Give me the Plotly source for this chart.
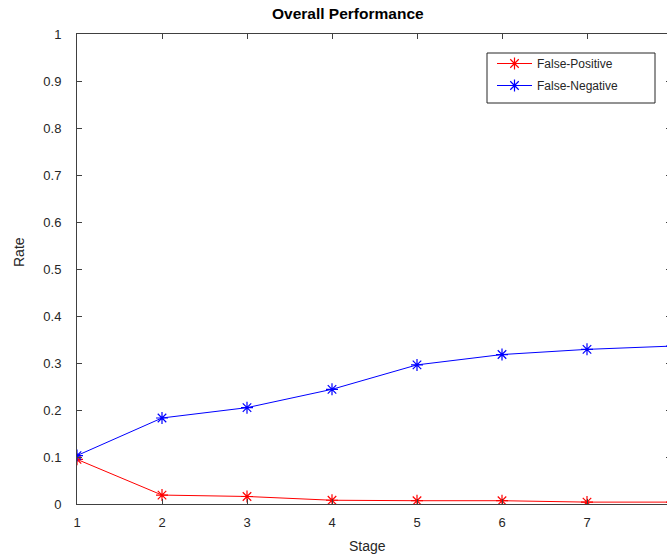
import plotly.graph_objects as go

stages = [1, 2, 3, 4, 5, 6, 7, 8]
false_positive = [0.095, 0.019, 0.016, 0.008, 0.007, 0.007, 0.004, 0.004]
false_negative = [0.103, 0.183, 0.205, 0.244, 0.296, 0.318, 0.329, 0.336]
y_ticks = [0, 0.1, 0.2, 0.3, 0.4, 0.5, 0.6, 0.7, 0.8, 0.9, 1]
y_tick_text = ["0", "0.1", "0.2", "0.3", "0.4", "0.5", "0.6", "0.7", "0.8", "0.9", "1"]
x_ticks = [1, 2, 3, 4, 5, 6, 7, 8]

W, H = 667, 557
L, R, T, B = 77, 0, 34, 53
font = "Liberation Sans, Arial, Helvetica, sans-serif"
axcol = "#404040"

plot_w = W - L - R
plot_h = H - T - B
y0 = H - B  # pixel row of y = 0


def px_x(p):
    return (p - L) / plot_w


def px_y(p):
    return (y0 - p) / plot_h


fig = go.Figure()
fig.add_trace(go.Scatter(x=stages, y=false_positive, mode="lines+markers", name="False-Positive",
                         legendgroup="fp",
                         line=dict(color="#FF0000", width=1),
                         marker=dict(symbol="asterisk-open", size=10, color="#FF0000",
                                     line=dict(color="#FF0000", width=1.2))))
fig.add_trace(go.Scatter(x=stages, y=false_negative, mode="lines+markers", name="False-Negative",
                         legendgroup="fn",
                         line=dict(color="#0000FF", width=1),
                         marker=dict(symbol="asterisk-open", size=10, color="#0000FF",
                                     line=dict(color="#0000FF", width=1.2))))
# invisible trace to carry the right-side mirror ticks
fig.add_trace(go.Scatter(x=[1], y=[0], yaxis="y2", mode="markers", marker=dict(opacity=0),
                         showlegend=False, hoverinfo="skip"))

px_per_unit = 85.0
x_max = 1 + plot_w / px_per_unit

fig.update_layout(
    width=W, height=H,
    margin=dict(l=L, r=R, t=T, b=B),
    paper_bgcolor="white", plot_bgcolor="white",
    font=dict(family=font, size=13, color="#262626"),
    showlegend=True,
    legend=dict(x=px_x(492), y=px_y(49), xanchor="left", yanchor="top",
                borderwidth=0, bgcolor="rgba(0,0,0,0)", itemwidth=35, tracegroupgap=3,
                font=dict(size=12, family=font, color="#262626")),
    xaxis=dict(range=[1, x_max], tickvals=x_ticks, ticks="inside", ticklen=5,
               tickcolor=axcol, showline=True, linecolor=axcol, linewidth=1, mirror="ticks",
               showgrid=False, zeroline=False, tickfont=dict(size=13), ticklabelstandoff=6),
    yaxis=dict(range=[0, 1], tickvals=y_ticks, ticktext=y_tick_text, ticksuffix="\u00a0",
               ticks="inside", ticklen=5,
               tickcolor=axcol, showline=True, linecolor=axcol, linewidth=1, mirror=False,
               showgrid=False, zeroline=False, tickfont=dict(size=13), ticklabelstandoff=12),
    yaxis2=dict(range=[0, 1], tickvals=y_ticks, overlaying="y", side="right", anchor="x",
                ticks="inside", ticklen=1, tickcolor=axcol, showticklabels=False,
                showline=False, showgrid=False, zeroline=False),
    shapes=[
        dict(type="rect", xref="paper", yref="paper", x0=px_x(487), x1=px_x(655),
             y0=px_y(103), y1=px_y(53), line=dict(color="#262626", width=1),
             fillcolor="white", layer="below"),
    ],
    annotations=[
        dict(text="<b>Overall Performance</b>", x=px_x(348), y=px_y(13), xref="paper", yref="paper",
             showarrow=False, font=dict(size=15.5, family=font, color="black"),
             xanchor="center", yanchor="middle"),
        dict(text="Stage", x=px_x(367), y=px_y(546), xref="paper", yref="paper",
             showarrow=False, font=dict(size=14, family=font, color="#262626"),
             xanchor="center", yanchor="middle"),
        dict(text="Rate", x=px_x(19), y=px_y(252), xref="paper", yref="paper",
             showarrow=False, textangle=-90, font=dict(size=14, family=font, color="#262626"),
             xanchor="center", yanchor="middle"),
    ],
)

fig.write_html("out.html", config={"displayModeBar": False},
               post_script="document.body.style.margin='0px';")
